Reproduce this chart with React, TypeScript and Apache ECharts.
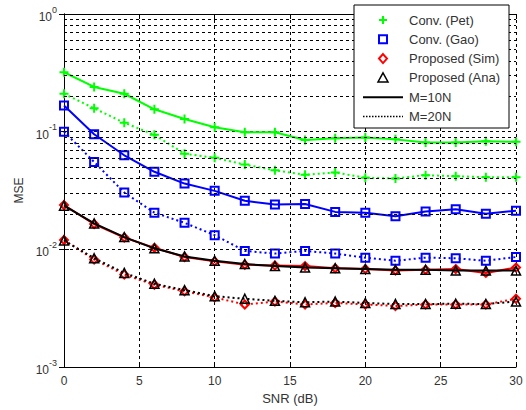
import React, { useEffect, useRef } from "react";
import * as echarts from "echarts";

const snr = [0, 2, 4, 6, 8, 10, 12, 14, 16, 18, 20, 22, 24, 26, 28, 30];
const petM10 = [0.32, 0.24, 0.21, 0.155, 0.128, 0.109, 0.099, 0.099, 0.085, 0.088, 0.089, 0.086, 0.081, 0.081, 0.083, 0.082];
const petM20 = [0.21, 0.158, 0.119, 0.094, 0.065, 0.06, 0.0525, 0.047, 0.043, 0.045, 0.0406, 0.04, 0.0427, 0.0418, 0.041, 0.041];
const gaoM10 = [0.167, 0.095, 0.063, 0.0456, 0.0362, 0.0314, 0.0259, 0.024, 0.0243, 0.0208, 0.0205, 0.0191, 0.021, 0.0219, 0.0201, 0.0213];
const gaoM20 = [0.1, 0.0553, 0.0304, 0.0205, 0.0168, 0.0132, 0.0097, 0.0092, 0.0097, 0.0092, 0.0085, 0.008, 0.0085, 0.0084, 0.008, 0.0086];
const simM10 = [0.0238, 0.0164, 0.0126, 0.0103, 0.0086, 0.0079, 0.0074, 0.0073, 0.0072, 0.0069, 0.0068, 0.0066, 0.0067, 0.0068, 0.0063, 0.007];
const anaM10 = [0.0235, 0.0166, 0.0127, 0.0102, 0.0087, 0.008, 0.0075, 0.0072, 0.007, 0.0069, 0.0068, 0.0067, 0.0067, 0.0066, 0.0066, 0.0066];
const simM20 = [0.012, 0.0082, 0.0061, 0.005, 0.0044, 0.0039, 0.0034, 0.0036, 0.0034, 0.0035, 0.0034, 0.0033, 0.0034, 0.0034, 0.0034, 0.0038];
const anaM20 = [0.0119, 0.0084, 0.0063, 0.0051, 0.0045, 0.004, 0.0038, 0.00365, 0.00355, 0.0036, 0.0035, 0.00343, 0.00343, 0.00345, 0.00343, 0.0036];

const decades = [0.001, 0.01, 0.1];
const minorMultipliers = [2, 3, 4, 5, 6, 7, 8, 9];
const yMinorGrid: number[] = [];
decades.forEach((d) => minorMultipliers.forEach((m) => yMinorGrid.push(+(d * m).toPrecision(3))));

const legendLabels = ["Conv. (Pet)", "Conv. (Gao)", "Proposed (Sim)", "Proposed (Ana)", "M=10N", "M=20N"];

const GREEN = "#00ff00";
const BLUE = "#0000ff";
const RED = "#ff0000";
const BLACK = "#000000";
const TXT = "#333333";
const FONT = "'Liberation Sans', Arial, sans-serif";
const PLUS = "path://M5,0L5,10M0,5L10,5";

function mk(name: string, vals: number[], color: string, symbol: string, size: number, dotted: boolean, bw: number, z: number) {
  return {
    name,
    type: "line",
    data: snr.map((x, i) => [x, vals[i]]),
    symbol,
    symbolSize: size,
    showAllSymbol: true,
    z,
    lineStyle: { color, width: 2, type: dotted ? [2, 3] : "solid" },
    itemStyle: { color: "transparent", borderColor: color, borderWidth: bw },
    emphasis: { disabled: true },
  };
}

const rowY = [20, 39.3, 58.6, 77.9, 97.2, 116.5];
const mx = 383;

const legendGraphic = {
  type: "group",
  z: 100,
  children: [
    { type: "rect", shape: { x: 354, y: 5, width: 155, height: 123 }, style: { fill: "#fff", stroke: "#000", lineWidth: 1 }, z: 100 },
    { type: "line", shape: { x1: mx - 4, y1: rowY[0], x2: mx + 4, y2: rowY[0] }, style: { stroke: GREEN, lineWidth: 2 }, z: 101 },
    { type: "line", shape: { x1: mx, y1: rowY[0] - 4, x2: mx, y2: rowY[0] + 4 }, style: { stroke: GREEN, lineWidth: 2 }, z: 101 },
    { type: "rect", shape: { x: mx - 4, y: rowY[1] - 4, width: 8, height: 8 }, style: { fill: "none", stroke: BLUE, lineWidth: 2 }, z: 101 },
    { type: "polygon", shape: { points: [[mx, rowY[2] - 4.5], [mx + 4, rowY[2]], [mx, rowY[2] + 4.5], [mx - 4, rowY[2]]] }, style: { fill: "none", stroke: RED, lineWidth: 2 }, z: 101 },
    { type: "polygon", shape: { points: [[mx, rowY[3] - 5], [mx + 5, rowY[3] + 4], [mx - 5, rowY[3] + 4]] }, style: { fill: "none", stroke: BLACK, lineWidth: 1.5 }, z: 101 },
    { type: "line", shape: { x1: 363, y1: rowY[4], x2: 403, y2: rowY[4] }, style: { stroke: BLACK, lineWidth: 2 }, z: 101 },
    { type: "line", shape: { x1: 363, y1: rowY[5], x2: 403, y2: rowY[5] }, style: { stroke: BLACK, lineWidth: 1.5, lineDash: [1.5, 1.5] }, z: 101 },
    ...legendLabels.map((t, i) => ({
      type: "text",
      x: 409,
      y: rowY[i],
      z: 101,
      style: { text: t, fill: TXT, font: `13px ${FONT}`, textVerticalAlign: "middle", verticalAlign: "middle" },
    })),
  ],
};

export default function App() {
  const ref = useRef<HTMLDivElement>(null);
  useEffect(() => {
    document.body.style.margin = "0";
    const chart = echarts.init(ref.current!, null, { renderer: "svg" });
    const gridLine = { color: "#000", type: [3, 3], width: 1 };
    chart.setOption({
      animation: false,
      backgroundColor: "#fff",
      textStyle: { fontFamily: FONT },
      grid: { left: 64, right: 10, top: 14, bottom: 38 },
      xAxis: [
        {
          type: "value",
          min: 0,
          max: 30,
          interval: 5,
          axisLine: { lineStyle: { color: "#000" } },
          axisTick: { inside: true, length: 5, lineStyle: { color: "#000" } },
          axisLabel: { color: TXT, fontSize: 12, margin: 8 },
          splitLine: { show: true, lineStyle: gridLine },
          name: "SNR (dB)",
          nameLocation: "middle",
          nameGap: 25,
          nameTextStyle: { color: TXT, fontSize: 13 },
        },
        {
          type: "value",
          position: "top",
          min: 0,
          max: 30,
          interval: 5,
          axisLine: { show: true, lineStyle: { color: "#000" } },
          axisTick: { show: true, inside: true, length: 5, lineStyle: { color: "#000" } },
          axisLabel: { show: false },
          splitLine: { show: false },
        },
      ],
      yAxis: [
        {
          type: "log",
          logBase: 10,
          min: 0.001,
          max: 1,
          axisLine: { show: true, lineStyle: { color: "#000" } },
          axisTick: { show: true, inside: true, length: 5, lineStyle: { color: "#000" } },
          splitLine: { show: true, lineStyle: gridLine },
          axisLabel: {
            color: TXT,
            margin: 7,
            formatter: (v: number) => `{a|10}{b|${Math.round(Math.log10(v))}}`,
            rich: {
              a: { fontSize: 12, color: TXT, verticalAlign: "bottom", lineHeight: 18 },
              b: { fontSize: 9, color: TXT, verticalAlign: "top", lineHeight: 18 },
            },
          },
          name: "MSE",
          nameLocation: "middle",
          nameGap: 38,
          nameTextStyle: { color: TXT, fontSize: 12 },
        },
        {
          type: "log",
          logBase: 10,
          min: 0.001,
          max: 1,
          position: "right",
          axisLine: { show: true, lineStyle: { color: "#000" } },
          axisTick: { show: true, inside: true, length: 5, lineStyle: { color: "#000" } },
          axisLabel: { show: false },
          splitLine: { show: false },
        },
      ],
      graphic: [legendGraphic],
      series: [
        {
          name: "grid",
          type: "line",
          data: [],
          z: 1,
          markLine: {
            silent: true,
            symbol: ["none", "none"],
            label: { show: false },
            lineStyle: gridLine,
            emphasis: { disabled: true },
            data: yMinorGrid.map((v) => ({ yAxis: v })),
          },
        },
        mk("Conv. (Pet) M=10N", petM10, GREEN, PLUS, 9, false, 2, 3),
        mk("Conv. (Pet) M=20N", petM20, GREEN, PLUS, 9, true, 2, 3),
        mk("Conv. (Gao) M=10N", gaoM10, BLUE, "rect", 8, false, 2, 4),
        mk("Conv. (Gao) M=20N", gaoM20, BLUE, "rect", 8, true, 2, 4),
        mk("Proposed (Sim) M=10N", simM10, RED, "diamond", 8, false, 2, 5),
        mk("Proposed (Sim) M=20N", simM20, RED, "diamond", 8, true, 2, 5),
        mk("Proposed (Ana) M=10N", anaM10, BLACK, "triangle", 9, false, 1.5, 6),
        mk("Proposed (Ana) M=20N", anaM20, BLACK, "triangle", 9, true, 1.5, 6),
      ],
    });
    return () => chart.dispose();
  }, []);
  return <div ref={ref} style={{ width: 526, height: 410 }} />;
}
